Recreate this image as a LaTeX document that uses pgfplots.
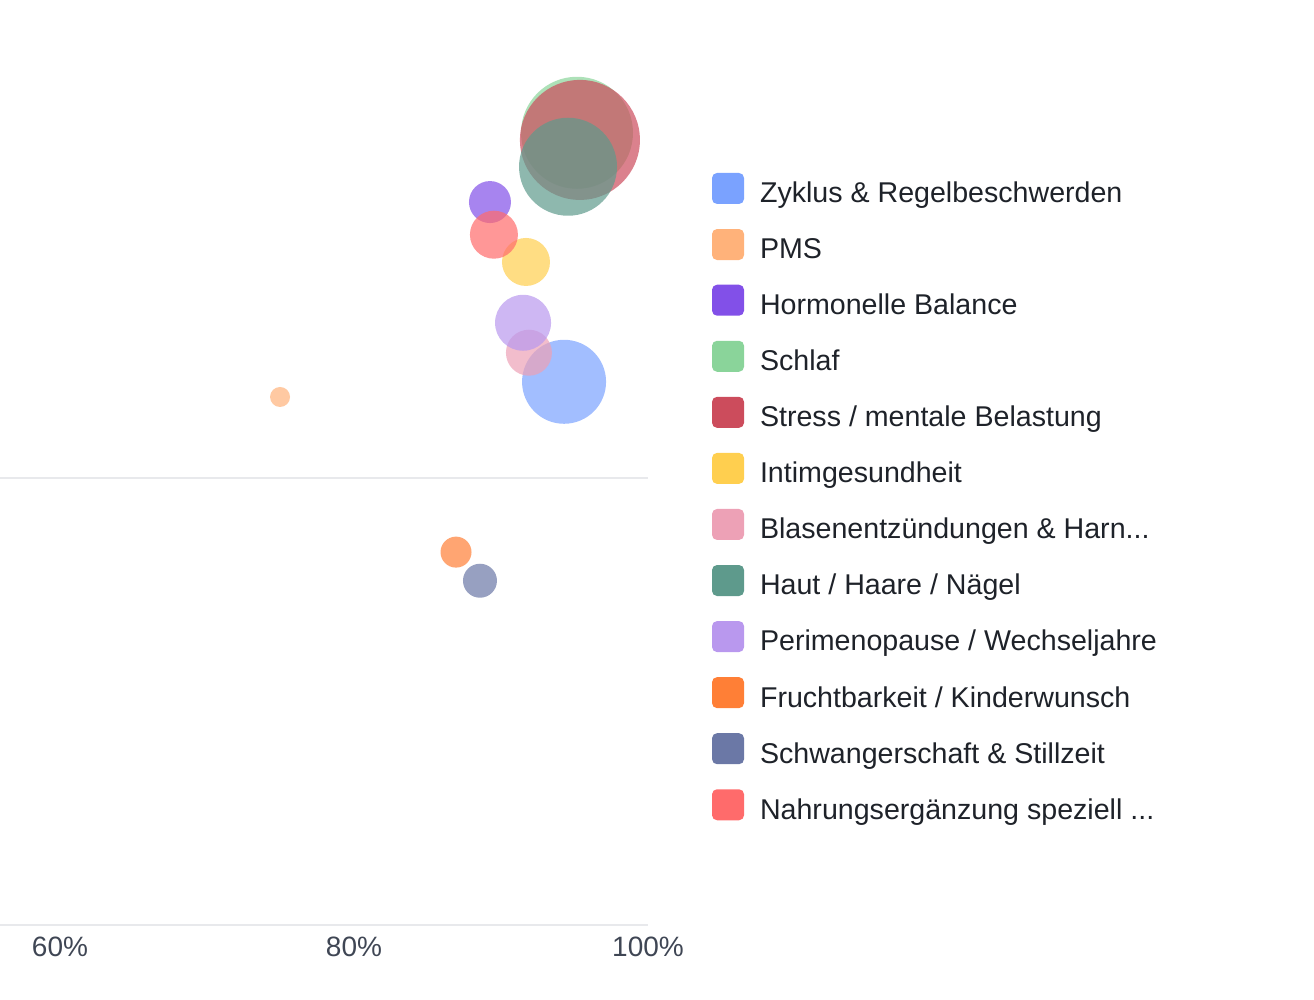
\documentclass[border=0pt]{standalone}
\usepackage{pgfplots}
\pgfplotsset{compat=1.18}
\usepackage{fontspec}
\setmainfont{Liberation Sans}

\definecolor{cZyklus}{HTML}{7AA2FF}
\definecolor{cPMS}{HTML}{FFB27A}
\definecolor{cHormon}{HTML}{8250E8}
\definecolor{cSchlaf}{HTML}{8AD49A}
\definecolor{cStress}{HTML}{CC4C5C}
\definecolor{cIntim}{HTML}{FFCF4F}
\definecolor{cBlase}{HTML}{EDA1B6}
\definecolor{cHaut}{HTML}{5E9A8C}
\definecolor{cPeri}{HTML}{B998EE}
\definecolor{cFrucht}{HTML}{FF7F36}
\definecolor{cSchwanger}{HTML}{6B78A6}
\definecolor{cNahrung}{HTML}{FF6B6B}
\definecolor{gridgray}{HTML}{E8E9EC}
\definecolor{tickgray}{HTML}{3F4654}
\definecolor{legtext}{HTML}{1E2229}

\pgfplotsset{
  bubble/.style={
    scatter, only marks, mark=*, forget plot,
    mark options={draw=none, draw opacity=0},
    visualization depends on={\thisrow{r}\as\rad},
    scatter/use mapped color={draw=none, draw opacity=0, fill=#1, fill opacity=0.7},
    scatter/@pre marker code/.append style={/tikz/mark size=0.5*\rad},
  },
}

\begin{document}
\begin{tikzpicture}
\useasboundingbox (0pt,0pt) rectangle (657pt,500pt);
\begin{axis}[
  at={(0pt,500pt)}, anchor=north west,
  scale only axis, width=324pt, height=462.5pt,
  xmin=55.92, xmax=100, ymin=0, ymax=206.9,
  axis line style={draw=none},
  major tick length=0pt,
  xtick={60,80,100}, xticklabels={60\%,80\%,100\%},
  ytick={0,100}, yticklabels={},
  ymajorgrids, grid style={draw=gridgray, line width=0.6pt},
  /pgf/number format/assume math mode=true,
  xticklabel style={font=\fontsize{14}{16}\selectfont, text=tickgray, yshift=-2.5pt},
  legend style={at={(axis description cs:1.0988,0.813)}, anchor=north west,
    draw=none, fill=none, inner sep=0pt, outer sep=0pt,
    row sep=11.6pt, column sep=8pt,
    nodes={inner sep=0pt, text=legtext},
    font=\fontsize{14.3}{16}\selectfont},
  legend cell align=left,
  legend image code/.code={\fill[draw=none, #1, rounded corners=2.5pt] (0pt,-5pt) rectangle (16pt,10.5pt);},
]
% bubble radius r is given in 1/2 pt units
\addplot[bubble=cZyklus]    table[row sep=\\] {x y r\\ 94.29 121.5 42\\};
\addplot[bubble=cPMS]       table[row sep=\\] {x y r\\ 74.97 118.1 10\\};
\addplot[bubble=cHormon]    table[row sep=\\] {x y r\\ 89.25 161.7 21\\};
\addplot[bubble=cSchlaf]    table[row sep=\\] {x y r\\ 95.17 177.2 56\\};
\addplot[bubble=cStress]    table[row sep=\\] {x y r\\ 95.37 175.6 60\\};
\addplot[bubble=cIntim]     table[row sep=\\] {x y r\\ 91.70 148.3 24\\};
\addplot[bubble=cBlase]     table[row sep=\\] {x y r\\ 91.90 128.0 23\\};
\addplot[bubble=cHaut]      table[row sep=\\] {x y r\\ 94.56 169.6 49\\};
\addplot[bubble=cPeri]      table[row sep=\\] {x y r\\ 91.50 134.7 28\\};
\addplot[bubble=cFrucht]    table[row sep=\\] {x y r\\ 86.94 83.4 15.5\\};
\addplot[bubble=cSchwanger] table[row sep=\\] {x y r\\ 88.57 77.0 17\\};
\addplot[bubble=cNahrung]   table[row sep=\\] {x y r\\ 89.52 154.4 24\\};

\addlegendimage{fill=cZyklus}    \addlegendentry{Zyklus \& Regelbeschwerden}
\addlegendimage{fill=cPMS}       \addlegendentry{PMS}
\addlegendimage{fill=cHormon}    \addlegendentry{Hormonelle Balance}
\addlegendimage{fill=cSchlaf}    \addlegendentry{Schlaf}
\addlegendimage{fill=cStress}    \addlegendentry{Stress / mentale Belastung}
\addlegendimage{fill=cIntim}     \addlegendentry{Intimgesundheit}
\addlegendimage{fill=cBlase}     \addlegendentry{Blasenentzündungen \& Harn...}
\addlegendimage{fill=cHaut}      \addlegendentry{Haut / Haare / Nägel}
\addlegendimage{fill=cPeri}      \addlegendentry{Perimenopause / Wechseljahre}
\addlegendimage{fill=cFrucht}    \addlegendentry{Fruchtbarkeit / Kinderwunsch}
\addlegendimage{fill=cSchwanger} \addlegendentry{Schwangerschaft \& Stillzeit}
\addlegendimage{fill=cNahrung}   \addlegendentry{Nahrungsergänzung speziell ...}
\end{axis}
\end{tikzpicture}
\end{document}
